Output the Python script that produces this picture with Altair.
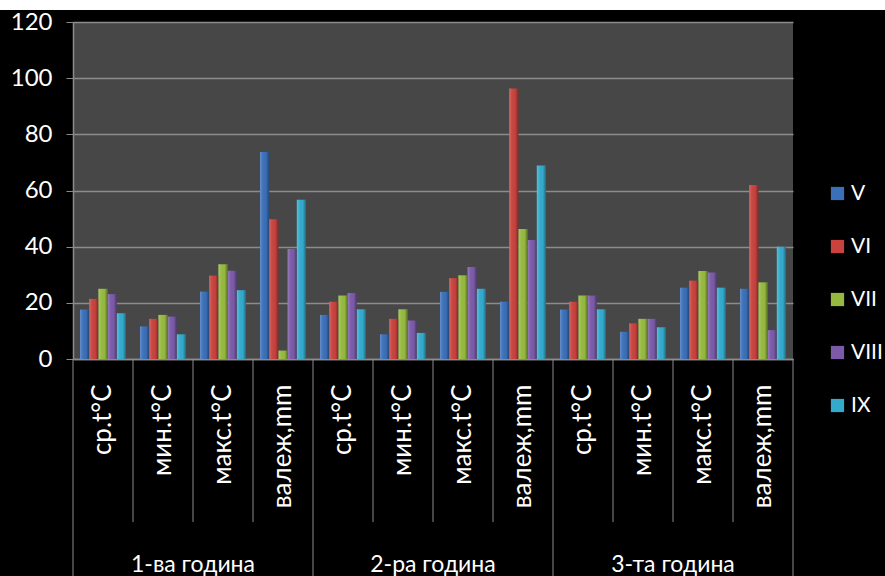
import altair as alt
import pandas as pd

years = ["1-ва година", "2-ра година", "3-та година"]
cats = ["ср.t°C", "мин.t°C", "макс.t°C", "валеж,mm"]
series = ["V", "VI", "VII", "VIII", "IX"]
colors = ["#3b6fb8", "#c8423e", "#96ba40", "#7b5aa8", "#33aacc"]

# values[year][category] -> list over series V..IX
y1 = [[17.6, 21.4, 25.0, 23.1, 16.3],
      [11.6, 14.3, 15.7, 15.1, 8.8],
      [24.0, 29.7, 33.7, 31.4, 24.5],
      [73.7, 49.8, 3.0, 39.2, 56.7]]
y2 = [[15.7, 20.4, 22.6, 23.5, 17.7],
      [8.8, 14.3, 17.7, 13.7, 9.3],
      [23.9, 28.8, 29.8, 32.8, 25.0],
      [20.4, 96.3, 46.3, 42.4, 68.9]]
y3 = [[17.6, 20.4, 22.6, 22.6, 17.7],
      [9.7, 12.7, 14.3, 14.3, 11.3],
      [25.4, 27.9, 31.3, 30.8, 25.4],
      [25.0, 62.0, 27.3, 10.3, 40.0]]
values = [y1, y2, y3]

keys = [f"{yi}|{c}" for yi in range(3) for c in cats]
rows = []
for yi in range(3):
    for ci, c in enumerate(cats):
        for si, s in enumerate(series):
            rows.append({"key": f"{yi}|{c}", "series": s, "value": values[yi][ci][si]})
df = pd.DataFrame(rows)

FONT = "Lato"
GRID = "#8c8c8c"
W, H = 720, 337

xscale = alt.Scale(domain=keys, paddingInner=0, paddingOuter=0)
xoff = alt.XOffset("series:N", sort=series,
                   scale=alt.Scale(domain=series, paddingInner=0, paddingOuter=0.76))
yenc = alt.Y("value:Q", title=None,
             scale=alt.Scale(domain=[0, 120], nice=False),
             axis=alt.Axis(values=[0, 20, 40, 60, 80, 100, 120], grid=True,
                           gridColor=GRID, gridWidth=1.5, domainColor=GRID,
                           domainWidth=1.5, tickColor=GRID, tickSize=7,
                           labelColor="white", labelFontSize=24, labelFont=FONT,
                           labelPadding=14))

bars = alt.Chart(df).mark_bar().encode(
    x=alt.X("key:N", sort=keys, scale=xscale, title=None,
            axis=alt.Axis(labelAngle=-90, labelExpr="split(datum.label, '|')[1]",
                          ticks=False, labelPadding=25, labelColor="white",
                          labelFontSize=26, labelFont=FONT, domainColor=GRID,
                          domainWidth=1.5, grid=False)),
    xOffset=xoff,
    y=yenc,
    color=alt.Color("series:N", sort=series,
                    scale=alt.Scale(domain=series, range=colors),
                    legend=alt.Legend(title=None, orient="none", legendX=754, legendY=161,
                                      symbolType="square", symbolSize=175,
                                      symbolStrokeWidth=0, labelColor="white",
                                      labelFontSize=21, labelFont=FONT,
                                      rowPadding=31, labelOffset=3)),
)

shade = alt.Chart(df).mark_bar(
    color=alt.LinearGradient(
        gradient="linear", x1=0, x2=1, y1=0, y2=0,
        stops=[alt.GradientStop(color="rgba(255,255,255,0.22)", offset=0),
               alt.GradientStop(color="rgba(255,255,255,0.06)", offset=0.25),
               alt.GradientStop(color="rgba(0,0,0,0.0)", offset=0.65),
               alt.GradientStop(color="rgba(0,0,0,0.38)", offset=1)])
).encode(
    x=alt.X("key:N", sort=keys, scale=xscale),
    xOffset=xoff,
    y=alt.Y("value:Q"),
)

inner_keys = [k for k in keys if not k.endswith("|" + cats[0])]
year_keys = [k for k in keys if k.endswith("|" + cats[0])]

div_inner = alt.Chart(pd.DataFrame({"key": inner_keys})).mark_rule(color=GRID, strokeWidth=1).encode(
    x=alt.X("key:N", sort=keys, scale=xscale, bandPosition=0),
    y=alt.value(H), y2=alt.value(H + 163))

div_year = alt.Chart(pd.DataFrame({"key": year_keys})).mark_rule(color=GRID, strokeWidth=1).encode(
    x=alt.X("key:N", sort=keys, scale=xscale, bandPosition=0),
    y=alt.value(H), y2=alt.value(H + 217))

div_end = alt.Chart(pd.DataFrame({"key": [keys[-1]]})).mark_rule(color=GRID, strokeWidth=1).encode(
    x=alt.X("key:N", sort=keys, scale=xscale, bandPosition=1),
    y=alt.value(H), y2=alt.value(H + 217))

year_df = pd.DataFrame({"key": [f"{yi}|{cats[1]}" for yi in range(3)], "year": years})
year_text = alt.Chart(year_df).mark_text(color="white", fontSize=23, font=FONT,
                                         baseline="middle", align="center").encode(
    x=alt.X("key:N", sort=keys, scale=xscale, bandPosition=1),
    y=alt.value(H + 206),
    text="year:N")

strip = alt.Chart(pd.DataFrame({"a": [0]})).mark_rect(color="white").encode(
    x=alt.value(-73), x2=alt.value(812), y=alt.value(-22), y2=alt.value(-12))

chart = alt.layer(bars, shade, div_inner, div_year, div_end, year_text, strip).properties(
    width=W, height=H,
    autosize=alt.AutoSizeParams(type="none"),
    padding={"left": 73, "top": 22, "right": 92, "bottom": 217},
    background="black",
).configure_view(fill="#474747", stroke=None)

chart.save("out.html", embed_options={"renderer": "svg", "actions": False})
